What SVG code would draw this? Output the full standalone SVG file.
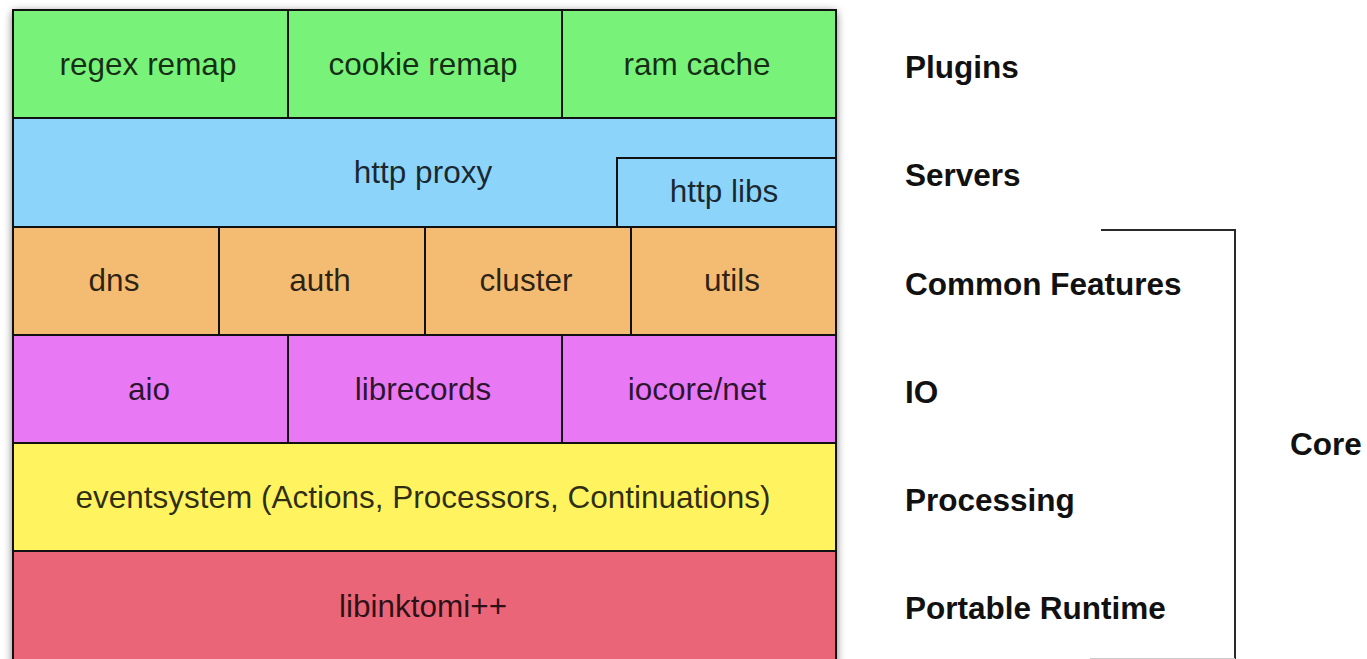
<svg xmlns="http://www.w3.org/2000/svg" width="1367" height="659" viewBox="0 0 1367 659">
  <defs>
    <filter id="shadow" x="-5%" y="-5%" width="110%" height="110%">
      <feDropShadow dx="0" dy="2" stdDeviation="5" flood-color="#000" flood-opacity="0.6"/>
    </filter>
    <style>
      .box { stroke: #111; stroke-width: 2; }
      .t { font-family: "Liberation Sans", Arial, sans-serif; font-size: 31.5px; fill: #000; fill-opacity: 0.82; text-anchor: middle; }
      .lbl { font-family: "Liberation Sans", Arial, sans-serif; font-size: 31.5px; font-weight: bold; fill: #111; }
      .green { fill: #78F278; }
      .blue { fill: #8DD4FB; }
      .orange { fill: #F4BC72; }
      .magenta { fill: #E878F4; }
      .yellow { fill: #FFF460; }
      .red { fill: #EB6579; }
      .bracket { fill: none; stroke: #2a2a2a; stroke-width: 2; }
    </style>
  </defs>
  <rect width="1367" height="659" fill="#fff"/>
  <rect x="13" y="10" width="823" height="660" fill="#fff" filter="url(#shadow)"/>

  <g id="regex-remap"><rect class="box green" x="13" y="10" width="275" height="108"/><text class="t" x="148" y="75">regex remap</text></g>
  <g id="cookie-remap"><rect class="box green" x="288" y="10" width="274" height="108"/><text class="t" x="423" y="75">cookie remap</text></g>
  <g id="ram-cache"><rect class="box green" x="562" y="10" width="274" height="108"/><text class="t" x="697" y="75">ram cache</text></g>

  <g id="http-proxy"><rect class="box blue" x="13" y="118" width="823" height="109"/><text class="t" x="423" y="183">http proxy</text></g>
  <g id="http-libs"><rect class="box blue" x="617" y="158" width="219" height="69"/><text class="t" x="724" y="202">http libs</text></g>

  <g id="dns"><rect class="box orange" x="13" y="227" width="206" height="108"/><text class="t" x="114" y="291">dns</text></g>
  <g id="auth"><rect class="box orange" x="219" y="227" width="206" height="108"/><text class="t" x="320" y="291">auth</text></g>
  <g id="cluster"><rect class="box orange" x="425" y="227" width="206" height="108"/><text class="t" x="526" y="291">cluster</text></g>
  <g id="utils"><rect class="box orange" x="631" y="227" width="205" height="108"/><text class="t" x="732" y="291">utils</text></g>

  <g id="aio"><rect class="box magenta" x="13" y="335" width="275" height="108"/><text class="t" x="149" y="400">aio</text></g>
  <g id="librecords"><rect class="box magenta" x="288" y="335" width="274" height="108"/><text class="t" x="423" y="400">librecords</text></g>
  <g id="iocore-net"><rect class="box magenta" x="562" y="335" width="274" height="108"/><text class="t" x="697" y="400">iocore/net</text></g>

  <g id="eventsystem"><rect class="box yellow" x="13" y="443" width="823" height="108"/><text class="t" x="423" y="508">eventsystem (Actions, Processors, Continuations)</text></g>

  <g id="libinktomi"><rect class="box red" x="13" y="551" width="823" height="120"/><text class="t" x="423" y="617">libinktomi++</text></g>

  <g id="labels">
    <text class="lbl" x="905" y="78">Plugins</text>
    <text class="lbl" x="905" y="186">Servers</text>
    <text class="lbl" x="905" y="295">Common Features</text>
    <text class="lbl" x="905" y="403">IO</text>
    <text class="lbl" x="905" y="511">Processing</text>
    <text class="lbl" x="905" y="619">Portable Runtime</text>
    <text class="lbl" x="1290" y="455">Core</text>
  </g>

  <g id="connectors">
    <polyline class="bracket" points="1101,230 1235,230 1235,660"/>
    <line x1="1090" y1="658.5" x2="1235" y2="658.5" stroke="#ccc" stroke-width="1"/>
  </g>
</svg>
